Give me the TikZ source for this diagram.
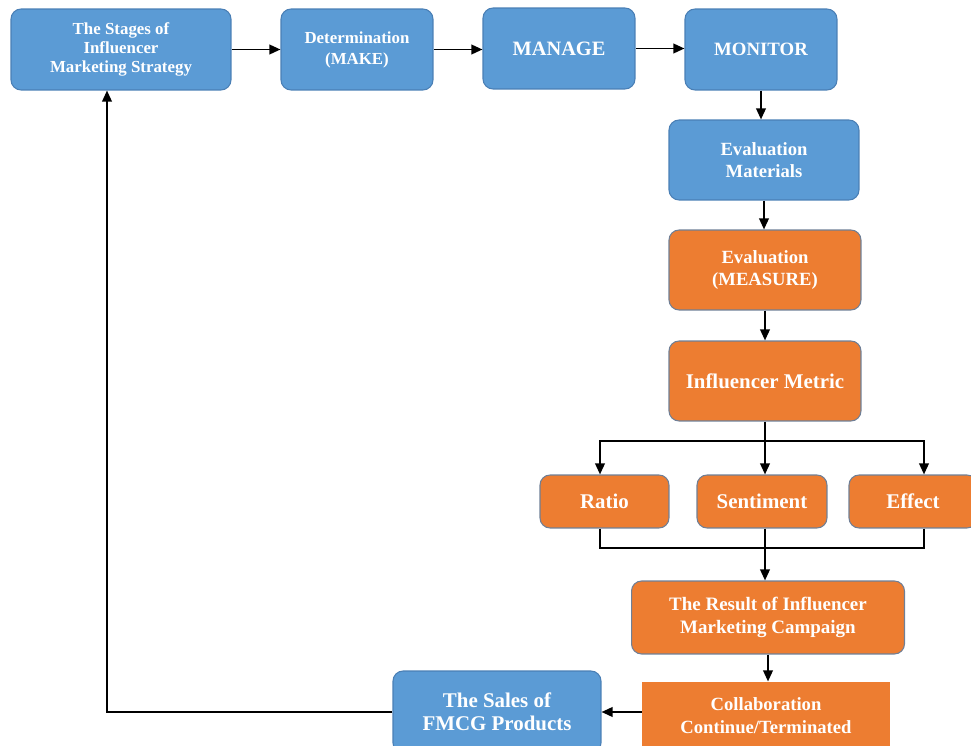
\documentclass[tikz,border=0pt]{standalone}
\usepackage{fontspec}
\setmainfont{Liberation Serif}
\usetikzlibrary{arrows.meta}
\definecolor{boxblue}{HTML}{5B9BD5}
\definecolor{boxorange}{HTML}{ED7D31}
\definecolor{edgeblue}{HTML}{4A7FB5}
\definecolor{edgegray}{HTML}{6F7F96}
\begin{document}
\begin{tikzpicture}[x=0.02cm,y=-0.02cm,
    box/.style={rounded corners=0.2cm, line width=0.6pt, text=white, align=center, font=\bfseries},
    bluebox/.style={box, fill=boxblue, draw=edgeblue},
    orangebox/.style={box, fill=boxorange, draw=edgegray},
    arr/.style={-{Triangle[length=0.22cm,width=0.19cm]}, line width=1.1pt},
    line/.style={line width=1.1pt}]
    \useasboundingbox (0,0) rectangle (971,746);

    % top row
    \node[bluebox, minimum width=4.4cm, minimum height=1.62cm, font=\bfseries\fontsize{9.6}{11}\selectfont] (stages) at (121,49.5) {The Stages of\\Influencer\\Marketing Strategy};
    \node[bluebox, minimum width=3.04cm, minimum height=1.62cm, font=\bfseries\fontsize{9.6}{12}\selectfont] (make) at (357,49.5) {Determination\\(MAKE)};
    \node[bluebox, minimum width=3.04cm, minimum height=1.62cm, font=\bfseries\fontsize{11.6}{13}\selectfont] (manage) at (559,48.5) {MANAGE};
    \node[bluebox, minimum width=3.04cm, minimum height=1.62cm, font=\bfseries\fontsize{10.7}{13}\selectfont] (monitor) at (761,49.5) {MONITOR};

    % right column
    \node[bluebox, minimum width=3.8cm, minimum height=1.6cm, font=\bfseries\fontsize{10.6}{12.5}\selectfont] (material) at (764,160) {Evaluation\\Materials};
    \node[orangebox, minimum width=3.84cm, minimum height=1.6cm, font=\bfseries\fontsize{10.6}{12.5}\selectfont] (measure) at (765,270) {Evaluation\\(MEASURE)};
    \node[orangebox, minimum width=3.84cm, minimum height=1.6cm, font=\bfseries\fontsize{11.9}{13}\selectfont] (metric) at (765,381) {Influencer Metric};

    % the three metrics
    \node[orangebox, minimum width=2.58cm, minimum height=1.06cm, font=\bfseries\fontsize{11.9}{13}\selectfont] (ratio) at (604.5,501.5) {Ratio};
    \node[orangebox, minimum width=2.6cm, minimum height=1.06cm, font=\bfseries\fontsize{11.9}{13}\selectfont] (senti) at (762,501.5) {Sentiment};
    \node[orangebox, minimum width=2.56cm, minimum height=1.06cm, font=\bfseries\fontsize{11.9}{13}\selectfont] (effect) at (913,501.5) {Effect};

    \node[orangebox, minimum width=5.46cm, minimum height=1.46cm, font=\bfseries\fontsize{10.8}{13}\selectfont] (result) at (768,617.5) {The Result of Influencer\\Marketing Campaign};
    \node[orangebox, rounded corners=0pt, draw=none, minimum width=4.96cm, minimum height=1.36cm, font=\bfseries\fontsize{10.6}{13}\selectfont] (collab) at (766,716) {Collaboration\\Continue/Terminated};
    \node[bluebox, minimum width=4.16cm, minimum height=1.64cm, font=\bfseries\fontsize{11.9}{13}\selectfont] (sales) at (497,712) {The Sales of\\FMCG Products};

    \coordinate (split) at (765,441);
    \coordinate (join) at (765,548);

    % connectors
    \draw[arr] (stages) -- (make);
    \draw[arr] (make) -- (make -| manage.west);
    \draw[arr] (manage) -- (manage -| monitor.west);
    \draw[arr] (monitor.south) -- (monitor.south |- material.north);
    \draw[arr] (material.south) -- (material.south |- measure.north);
    \draw[arr] (measure) -- (metric);
    \draw[line] (metric) -- (split);
    \draw[arr] (split) -| ([xshift=-0.09cm]ratio.north);
    \draw[arr] (split) -- (split |- senti.north);
    \draw[arr] (split) -| ([xshift=0.22cm]effect.north);
    \draw[line] ([xshift=-0.09cm]ratio.south) |- (join);
    \draw[line] ([xshift=0.22cm]effect.south) |- (join);
    \draw[arr] (split |- senti.south) -- (split |- result.north);
    \draw[arr] (result) -- (result |- collab.north);
    \draw[arr] (collab.west |- sales) -- (sales);
    \draw[arr] (sales.west) -| ([xshift=-0.28cm]stages.south);
\end{tikzpicture}
\end{document}
